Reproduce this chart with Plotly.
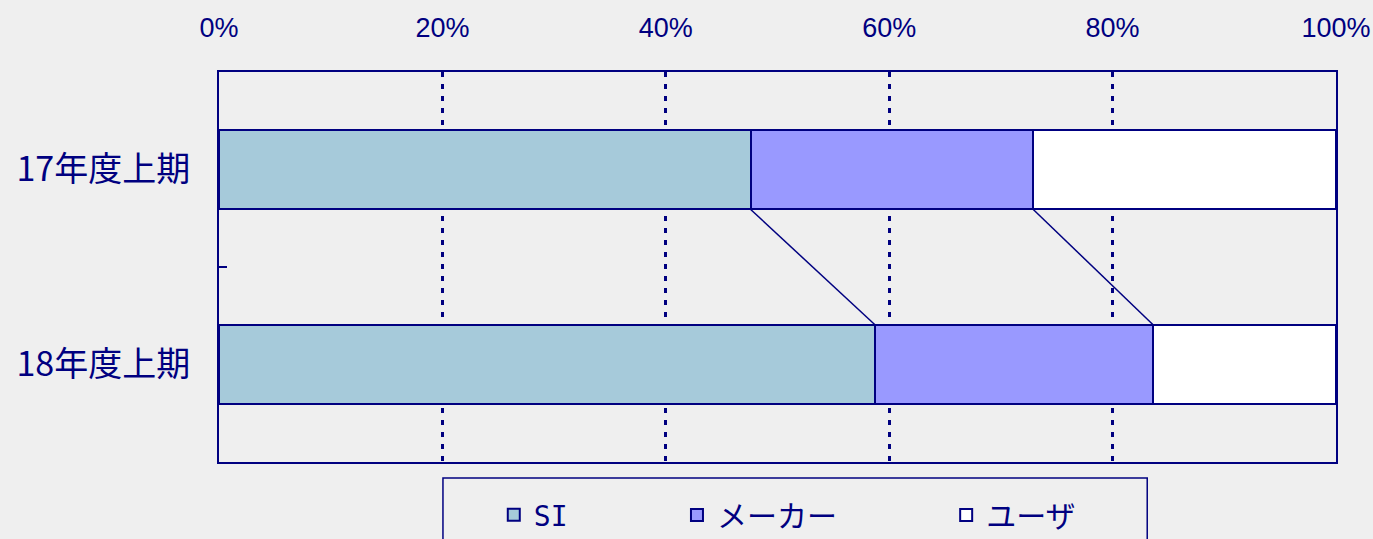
import numpy as np
import plotly.graph_objects as go

categories = ["17年度上期", "18年度上期"]
series_names = ["SI", "メーカー", "ユーザ"]
si = [47.6, 58.7]
maker = [25.3, 24.9]
user = [27.1, 16.4]
tick_vals = [0, 20, 40, 60, 80, 100]
tick_text = ["0%", "20%", "40%", "60%", "80%", "100%"]

NAVY = "#000080"
colors = ["#A6CADA", "#9999FF", "#FFFFFF"]
legend_ids = ["legend", "legend2", "legend3"]
legend_x = [0.246, 0.410, 0.651]
legend_fonts = ["DejaVu Sans Mono", "Noto Sans CJK JP", "Noto Sans CJK JP"]

fig = go.Figure()
for name, vals, col, lid in zip(series_names, [si, maker, user], colors, legend_ids):
    fig.add_trace(go.Bar(
        y=categories, x=vals, name=name, orientation="h",
        marker=dict(color=col, line=dict(color=NAVY, width=2)),
        width=0.41, legend=lid, hoverinfo="x+name",
    ))

# series lines between bars
cum = np.cumsum(np.array([si, maker, user]), axis=0)
half = 0.41 / 2
for k in range(2):
    fig.add_shape(type="line", xref="x", yref="y",
                  x0=cum[k][0], y0=1 - half, x1=cum[k][1], y1=0 + half,
                  line=dict(color=NAVY, width=1.5), layer="above")

# legend frame
fig.add_shape(type="rect", xref="paper", yref="paper",
              x0=0.2005, x1=0.831, y0=-0.26, y1=-0.041,
              line=dict(color=NAVY, width=1.5), fillcolor="rgba(0,0,0,0)")

layout_legends = {}
for lid, lx, lf in zip(legend_ids, legend_x, legend_fonts):
    layout_legends[lid] = dict(
        x=lx, orientation="h", yanchor="middle", y=-0.136, xanchor="left",
        bgcolor="rgba(0,0,0,0)", borderwidth=0,
        font=dict(family=lf, size=30 if lf != "DejaVu Sans Mono" else 28, color=NAVY))

fig.update_layout(
    barmode="stack",
    width=1373, height=539,
    margin=dict(l=219, r=37, t=72, b=77, autoexpand=False),
    paper_bgcolor="#EFEFEF",
    plot_bgcolor="#EFEFEF",
    showlegend=True,
    **layout_legends,
    xaxis=dict(
        side="top", range=[0, 100], tickvals=tick_vals, ticktext=tick_text,
        showgrid=True, gridcolor=NAVY, griddash="5px,7px", gridwidth=3,
        showline=True, linecolor=NAVY, linewidth=2, mirror=True,
        ticks="", zeroline=False, ticklabelstandoff=22, automargin=False,
        tickfont=dict(family="Liberation Sans", size=27, color=NAVY),
    ),
    yaxis=dict(
        type="category", categoryorder="array",
        categoryarray=list(reversed(categories)),
        range=[-0.5, 1.5], automargin=False,
        showline=True, linecolor=NAVY, linewidth=2, mirror=True,
        showgrid=False, ticks="inside", ticklen=8, tickcolor=NAVY, tickwidth=2,
        tickson="boundaries", ticklabelstandoff=20,
        tickfont=dict(family="Noto Sans CJK JP", size=34, color=NAVY),
    ),
)

fig.write_html(
    "out.html",
    config={"displayModeBar": False},
    post_script="document.body.style.margin='0';document.body.style.overflow='hidden';",
)
